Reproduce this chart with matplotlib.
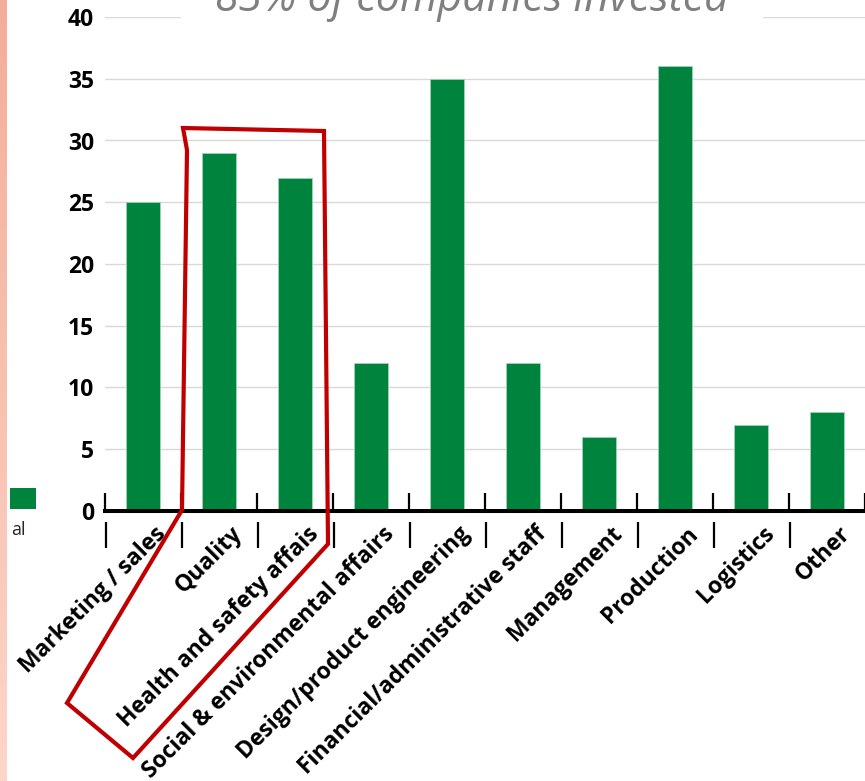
import matplotlib
matplotlib.use('Agg')
import matplotlib.pyplot as plt
from matplotlib.patches import Rectangle, Polygon
from matplotlib.transforms import ScaledTranslation
from matplotlib.colors import LinearSegmentedColormap
import numpy as np

categories = ["Marketing / sales", "Quality", "Health and safety affais",
              "Social & environmental affairs", "Design/product engineering",
              "Financial/administrative staff", "Management", "Production",
              "Logistics", "Other"]
values = [25, 29, 27, 12, 35, 12, 6, 36, 7, 8]
y_ticks = [0, 5, 10, 15, 20, 25, 30, 35, 40]
title_text = "83% of companies invested"
legend_text = "al"

W, H = 865, 781
fig = plt.figure(figsize=(W / 100, H / 100), dpi=100)
plt.rcParams['font.family'] = ['Open Sans', 'DejaVu Sans']

def fx(x):
    return x / W

def fy(y):
    return 1 - y / H

GREEN = '#00843d'

ax = fig.add_axes([fx(105), fy(511), (W - 105) / W, (511 - 17) / H])
x = np.arange(len(categories))
ax.bar(x, values, width=0.46, color=GREEN, zorder=3, edgecolor='#9fd3b5', linewidth=0.6)
ax.set_xlim(-0.5, -0.5 + (W - 105) / 76.8)
ax.set_ylim(0, 40)

for s in ['left', 'top', 'right']:
    ax.spines[s].set_visible(False)
ax.spines['bottom'].set_linewidth(2.9)
ax.spines['bottom'].set_color('black')
ax.spines['bottom'].set_zorder(4)

ax.set_yticks(y_ticks)
ax.set_yticklabels([str(v) for v in y_ticks], fontsize=16.5, fontweight='bold')
ax.tick_params(axis='y', length=0, pad=8)
ax.yaxis.grid(True, color='#d9d9d9', lw=1)
ax.set_axisbelow(True)

# category labels on major ticks, boundaries as minor ticks
ax.set_xticks(x)
ax.set_xticklabels(categories, rotation=45, ha='right', va='center',
                   rotation_mode='anchor', fontsize=16.5, fontweight='bold')
ax.tick_params(axis='x', which='major', length=0, pad=14)
bounds = np.arange(-0.5, len(categories) - 0.4, 1.0)
ax.set_xticks(bounds, minor=True)
ax.tick_params(axis='x', which='minor', direction='in', length=13, width=1.6, color='black')
off = ScaledTranslation(20 / 100, 0, fig.dpi_scale_trans)
for lab in ax.get_xticklabels():
    lab.set_transform(lab.get_transform() + off)
ax.vlines(bounds + 0.015, -0.022, -0.075, transform=ax.get_xaxis_transform(),
          clip_on=False, color='black', lw=1.6)

# title (partly cut off at the top of the picture, as in the reference)
fig.text(fx(472), fy(11), title_text, ha='center', va='baseline', fontsize=31,
         style='italic', color='#7f7f7f',
         bbox=dict(boxstyle='square,pad=0.8', fc='white', ec='none'), zorder=5)

# legend remnant
fig.add_artist(Rectangle((fx(10), fy(509)), 26 / W, 21 / H, transform=fig.transFigure,
                         fc=GREEN, ec='none'))
fig.text(fx(11), fy(530), legend_text, ha='left', va='center', fontsize=13, color='#262626')

# red hand-drawn annotation
pts = [(183, 128), (324, 131), (328, 544), (133, 758), (67, 703), (182, 510), (187, 150)]
fig.add_artist(Polygon([(fx(a), fy(b)) for a, b in pts], closed=True, fill=False,
                       ec='#c00000', lw=3, joinstyle='miter', transform=fig.transFigure,
                       zorder=6))

# left decorative strip
sax = fig.add_axes([0, 0, 7 / W, 1])
grad = np.linspace(0, 1, 256).reshape(-1, 1)
cm = LinearSegmentedColormap.from_list('s', ['#f4ad98', '#fcd6c9'])
sax.imshow(grad, aspect='auto', cmap=cm)
sax.axis('off')

fig.savefig('out.png', dpi=100)
